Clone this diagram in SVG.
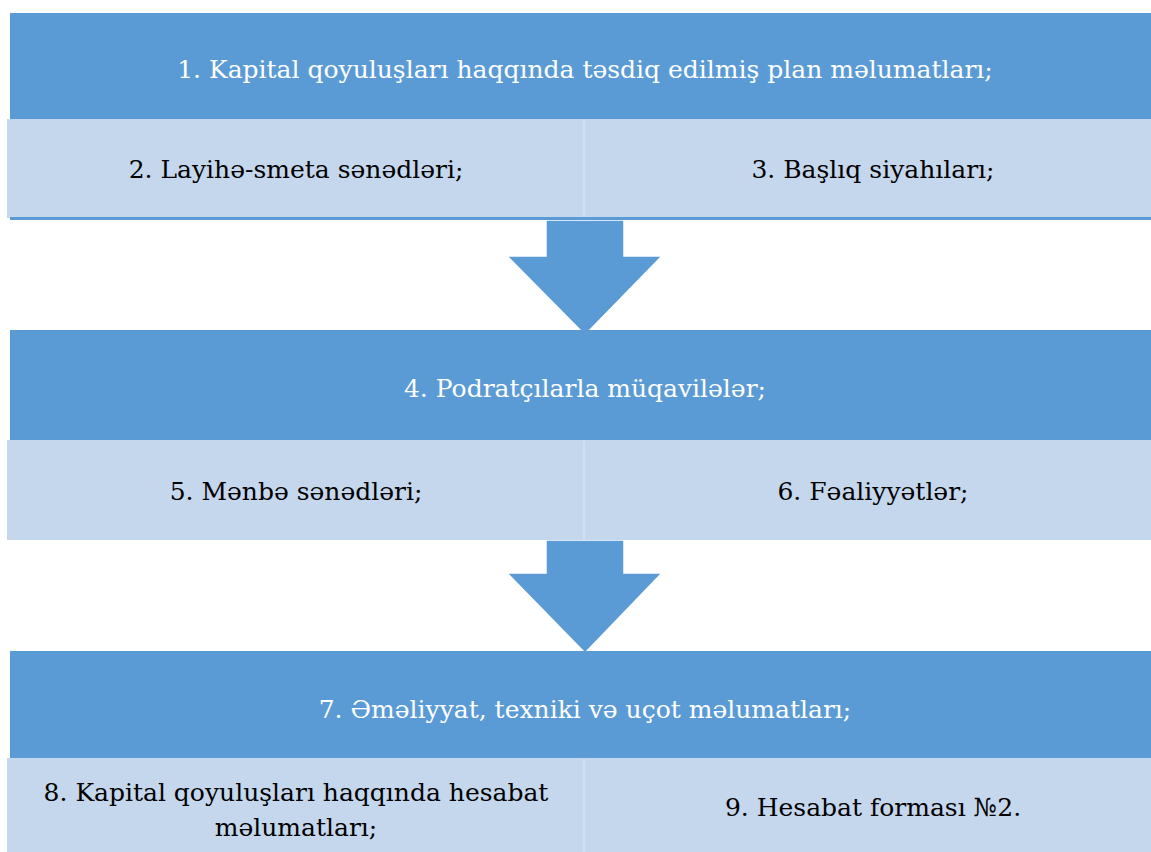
<svg xmlns="http://www.w3.org/2000/svg" width="1151" height="852" viewBox="0 0 1151 852">
<style>
.band{fill:#5B9BD5}
.cell{fill:#C5D7EC}
.line{fill:#5B9BD5}
.div{stroke:#D3E0F0;stroke-width:2}
.arrow{fill:#5B9BD5;stroke:#FFFFFF;stroke-width:1.5}
text{font-family:'DejaVu Serif',serif;font-size:25px;text-anchor:middle}
.tw{fill:#FFFFFF}
.tb{fill:#000000}
</style>
<rect width="1151" height="852" fill="#FFFFFF"/>
<g id="connectors">
<polygon class="arrow" points="546,220 624,220 624,256 662,256 585,335 507,256 546,256"/>
<polygon class="arrow" points="546,540 624,540 624,573 662,573 585,653 507,573 546,573"/>
</g>
<g id="node1">
<rect class="band" x="10" y="13" width="1141" height="106"/>
<text class="tw" x="585" y="78">1. Kapital qoyuluşları haqqında təsdiq edilmiş plan məlumatları;</text>
</g>
<g id="node2">
<rect class="cell" x="7" y="119" width="576" height="99"/>
<text class="tb" x="296" y="178">2. Layihə-smeta sənədləri;</text>
</g>
<g id="node3">
<rect class="cell" x="583" y="119" width="568" height="99"/>
<text class="tb" x="873" y="178">3. Başlıq siyahıları;</text>
</g>
<rect class="line" x="10" y="217" width="1141" height="3"/>
<line class="div" x1="584" y1="120" x2="584" y2="217"/>
<g id="node4">
<rect class="band" x="10" y="330" width="1141" height="110"/>
<text class="tw" x="585" y="397">4. Podratçılarla müqavilələr;</text>
</g>
<g id="node5">
<rect class="cell" x="7" y="440" width="576" height="100"/>
<text class="tb" x="296" y="500">5. Mənbə sənədləri;</text>
</g>
<g id="node6">
<rect class="cell" x="583" y="440" width="568" height="100"/>
<text class="tb" x="873" y="500">6. Fəaliyyətlər;</text>
</g>
<line class="div" x1="584" y1="441" x2="584" y2="540"/>
<g id="node7">
<rect class="band" x="10" y="651" width="1141" height="107"/>
<text class="tw" x="585" y="718">7. Əməliyyat, texniki və uçot məlumatları;</text>
</g>
<g id="node8">
<rect class="cell" x="7" y="758" width="576" height="94"/>
<text class="tb" x="296" y="801">8. Kapital qoyuluşları haqqında hesabat</text>
<text class="tb" x="296" y="836">məlumatları;</text>
</g>
<g id="node9">
<rect class="cell" x="583" y="758" width="568" height="94"/>
<text class="tb" x="873" y="816">9. Hesabat forması №2.</text>
</g>
<line class="div" x1="584" y1="759" x2="584" y2="852"/>
</svg>
